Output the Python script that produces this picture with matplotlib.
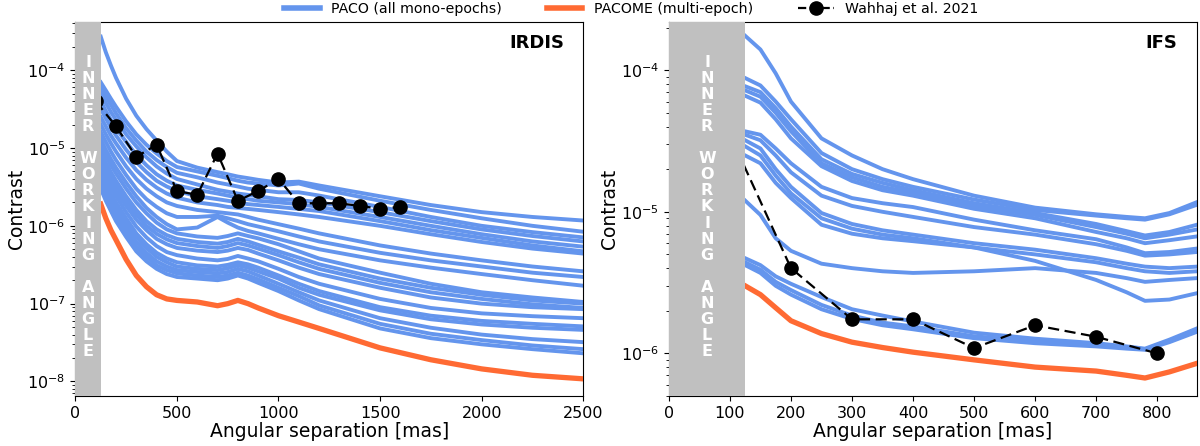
import matplotlib
matplotlib.use('Agg')
import matplotlib.pyplot as plt
from matplotlib.lines import Line2D

# ---- IRDIS ----
irdis_sep = [125, 150, 175, 200, 250, 300, 350, 400, 450, 500, 600, 700, 750, 800, 850, 900,
             1000, 1100, 1200, 1500, 1750, 2000, 2250, 2500]

irdis_paco = [
    [2.7e-4, 1.7e-4, 1.15e-4, 8.0e-5, 4.3e-5, 2.6e-5, 1.75e-5, 1.25e-5, 9.0e-6, 6.8e-6, 5.6e-6, 4.9e-6,
     4.6e-6, 4.3e-6, 4.1e-6, 3.9e-6, 3.6e-6, 3.7e-6, 3.3e-6, 2.4e-6, 1.85e-6, 1.5e-6, 1.3e-6, 1.17e-6],
    [7.0e-5, 5.5e-5, 4.3e-5, 3.4e-5, 2.2e-5, 1.5e-5, 1.1e-5, 8.5e-6, 6.8e-6, 5.7e-6, 5.0e-6, 4.4e-6,
     4.1e-6, 3.8e-6, 3.6e-6, 3.5e-6, 3.3e-6, 3.5e-6, 3.0e-6, 2.1e-6, 1.6e-6, 1.25e-6, 1.0e-6, 8.4e-7],
    [6.0e-5, 4.6e-5, 3.6e-5, 2.8e-5, 1.8e-5, 1.25e-5, 9.0e-6, 7.0e-6, 5.7e-6, 4.8e-6, 4.2e-6, 3.6e-6,
     3.4e-6, 3.2e-6, 3.0e-6, 2.9e-6, 2.7e-6, 2.7e-6, 2.45e-6, 1.75e-6, 1.3e-6, 1.0e-6, 8.3e-7, 7.1e-7],
    [5.0e-5, 3.8e-5, 2.9e-5, 2.3e-5, 1.5e-5, 1.05e-5, 7.6e-6, 5.8e-6, 4.7e-6, 4.0e-6, 3.4e-6, 2.9e-6,
     2.75e-6, 2.6e-6, 2.5e-6, 2.4e-6, 2.2e-6, 2.15e-6, 2.0e-6, 1.5e-6, 1.15e-6, 9.0e-7, 7.4e-7, 6.3e-7],
    [4.0e-5, 3.0e-5, 2.3e-5, 1.8e-5, 1.2e-5, 8.2e-6, 6.0e-6, 4.6e-6, 3.8e-6, 3.3e-6, 2.9e-6, 2.6e-6,
     2.45e-6, 2.3e-6, 2.2e-6, 2.1e-6, 2.0e-6, 1.9e-6, 1.75e-6, 1.3e-6, 1.0e-6, 7.8e-7, 6.3e-7, 5.4e-7],
    [3.2e-5, 2.4e-5, 1.85e-5, 1.45e-5, 9.5e-6, 6.6e-6, 4.9e-6, 3.8e-6, 3.2e-6, 2.8e-6, 2.4e-6, 2.2e-6,
     2.1e-6, 2.0e-6, 1.9e-6, 1.85e-6, 1.75e-6, 1.65e-6, 1.55e-6, 1.15e-6, 8.8e-7, 7.0e-7, 5.6e-7, 4.7e-7],
    [2.5e-5, 1.9e-5, 1.45e-5, 1.15e-5, 7.5e-6, 5.2e-6, 3.9e-6, 3.1e-6, 2.6e-6, 2.3e-6, 2.0e-6, 1.85e-6,
     1.75e-6, 1.7e-6, 1.65e-6, 1.6e-6, 1.5e-6, 1.4e-6, 1.3e-6, 1.0e-6, 7.8e-7, 6.2e-7, 5.1e-7, 4.4e-7],
    [2.0e-5, 1.5e-5, 1.15e-5, 9.0e-6, 5.8e-6, 4.0e-6, 3.0e-6, 2.4e-6, 2.0e-6, 1.8e-6, 1.6e-6, 1.5e-6,
     1.45e-6, 1.4e-6, 1.3e-6, 1.2e-6, 1.05e-6, 9.2e-7, 8.0e-7, 5.6e-7, 4.4e-7, 3.6e-7, 3.0e-7, 2.6e-7],
    [1.6e-5, 1.2e-5, 9.0e-6, 7.0e-6, 4.5e-6, 3.0e-6, 2.2e-6, 1.75e-6, 1.45e-6, 1.3e-6, 1.3e-6, 1.35e-6,
     1.25e-6, 1.15e-6, 1.05e-6, 9.8e-7, 8.5e-7, 7.3e-7, 6.3e-7, 4.5e-7, 3.6e-7, 3.0e-7, 2.5e-7, 2.2e-7],
    [1.3e-5, 9.5e-6, 7.2e-6, 5.6e-6, 3.6e-6, 2.4e-6, 1.7e-6, 1.3e-6, 1.05e-6, 9.0e-7, 9.5e-7, 1.3e-6,
     1.1e-6, 9.5e-7, 8.6e-7, 8.0e-7, 6.8e-7, 5.8e-7, 5.0e-7, 3.6e-7, 2.9e-7, 2.4e-7, 2.0e-7, 1.7e-7],
    [1.1e-5, 8.0e-6, 6.0e-6, 4.7e-6, 3.0e-6, 2.0e-6, 1.45e-6, 1.1e-6, 9.0e-7, 8.0e-7, 7.3e-7, 7.0e-7,
     7.4e-7, 8.0e-7, 7.4e-7, 6.9e-7, 5.8e-7, 4.7e-7, 3.8e-7, 2.5e-7, 1.8e-7, 1.4e-7, 1.2e-7, 1.05e-7],
    [9.0e-6, 6.5e-6, 4.9e-6, 3.8e-6, 2.4e-6, 1.6e-6, 1.15e-6, 9.0e-7, 7.6e-7, 6.8e-7, 6.2e-7, 5.9e-7,
     6.2e-7, 6.8e-7, 6.3e-7, 5.7e-7, 4.7e-7, 3.9e-7, 3.2e-7, 2.1e-7, 1.6e-7, 1.3e-7, 1.1e-7, 1.0e-7],
    [8.0e-6, 5.8e-6, 4.3e-6, 3.3e-6, 2.1e-6, 1.4e-6, 1.0e-6, 7.9e-7, 6.7e-7, 6.0e-7, 5.5e-7, 5.2e-7,
     5.5e-7, 6.0e-7, 5.6e-7, 5.1e-7, 4.2e-7, 3.4e-7, 2.8e-7, 1.85e-7, 1.4e-7, 1.15e-7, 9.8e-8, 8.8e-8],
    [7.0e-6, 5.0e-6, 3.7e-6, 2.8e-6, 1.8e-6, 1.2e-6, 8.8e-7, 6.8e-7, 5.8e-7, 5.2e-7, 4.8e-7, 4.6e-7,
     4.8e-7, 5.2e-7, 4.9e-7, 4.4e-7, 3.6e-7, 2.9e-7, 2.4e-7, 1.6e-7, 1.2e-7, 1.0e-7, 9.0e-8, 8.5e-8],
    [6.0e-6, 4.3e-6, 3.2e-6, 2.4e-6, 1.5e-6, 9.8e-7, 7.1e-7, 5.5e-7, 4.6e-7, 4.2e-7, 3.8e-7, 3.6e-7,
     3.75e-7, 4.1e-7, 3.8e-7, 3.5e-7, 2.8e-7, 2.2e-7, 1.8e-7, 1.15e-7, 8.8e-8, 7.5e-8, 6.9e-8, 6.5e-8],
    [5.0e-6, 3.6e-6, 2.6e-6, 2.0e-6, 1.25e-6, 8.0e-7, 5.8e-7, 4.5e-7, 3.8e-7, 3.4e-7, 3.1e-7, 3.0e-7,
     3.15e-7, 3.4e-7, 3.2e-7, 2.9e-7, 2.3e-7, 1.8e-7, 1.45e-7, 9.0e-8, 7.0e-8, 6.0e-8, 5.5e-8, 5.1e-8],
    [4.5e-6, 3.2e-6, 2.35e-6, 1.8e-6, 1.1e-6, 7.2e-7, 5.2e-7, 4.0e-7, 3.4e-7, 3.0e-7, 2.8e-7, 2.7e-7,
     2.85e-7, 3.1e-7, 2.9e-7, 2.6e-7, 2.1e-7, 1.6e-7, 1.3e-7, 8.2e-8, 6.3e-8, 5.4e-8, 4.9e-8, 4.6e-8],
    [4.0e-6, 2.8e-6, 2.05e-6, 1.55e-6, 9.5e-7, 6.2e-7, 4.5e-7, 3.5e-7, 3.0e-7, 2.7e-7, 2.55e-7, 2.45e-7,
     2.55e-7, 2.8e-7, 2.6e-7, 2.3e-7, 1.8e-7, 1.4e-7, 1.1e-7, 6.5e-8, 4.9e-8, 4.0e-8, 3.5e-8, 3.2e-8],
    [3.5e-6, 2.45e-6, 1.8e-6, 1.35e-6, 8.3e-7, 5.4e-7, 4.0e-7, 3.1e-7, 2.7e-7, 2.45e-7, 2.3e-7, 2.2e-7,
     2.3e-7, 2.5e-7, 2.3e-7, 2.05e-7, 1.6e-7, 1.25e-7, 9.5e-8, 5.5e-8, 4.1e-8, 3.4e-8, 2.9e-8, 2.6e-8],
    [3.0e-6, 2.1e-6, 1.55e-6, 1.15e-6, 7.2e-7, 4.7e-7, 3.5e-7, 2.8e-7, 2.4e-7, 2.2e-7, 2.1e-7, 2.0e-7,
     2.1e-7, 2.3e-7, 2.1e-7, 1.85e-7, 1.45e-7, 1.1e-7, 8.5e-8, 4.8e-8, 3.6e-8, 3.0e-8, 2.6e-8, 2.3e-8],
]

irdis_pacome = [1.9e-6, 1.25e-6, 8.8e-7, 6.6e-7, 3.7e-7, 2.3e-7, 1.65e-7, 1.3e-7, 1.15e-7, 1.1e-7,
                1.05e-7, 9.4e-8, 1.0e-7, 1.1e-7, 1.0e-7, 8.8e-8, 7.0e-8, 5.8e-8, 4.8e-8, 2.7e-8,
                1.9e-8, 1.45e-8, 1.2e-8, 1.08e-8]

irdis_wahhaj_sep = [100, 200, 300, 400, 500, 600, 700, 800, 900, 1000, 1100, 1200, 1300, 1400, 1500, 1600]
irdis_wahhaj = [4.0e-5, 1.9e-5, 7.7e-6, 1.1e-5, 2.8e-6, 2.5e-6, 8.5e-6, 2.1e-6, 2.8e-6, 4.0e-6,
                1.95e-6, 1.95e-6, 1.95e-6, 1.8e-6, 1.66e-6, 1.75e-6]

# ---- IFS ----
ifs_sep = [125, 150, 175, 200, 250, 300, 350, 400, 500, 600, 700, 750, 780, 820, 865]

ifs_paco = [
    [1.75e-4, 1.4e-4, 9.5e-5, 6.0e-5, 3.3e-5, 2.5e-5, 2.0e-5, 1.7e-5, 1.3e-5, 1.07e-5, 9.6e-6, 9.2e-6, 9.0e-6, 9.8e-6, 1.17e-5],
    [8.8e-5, 7.8e-5, 6.0e-5, 4.5e-5, 2.6e-5, 2.0e-5, 1.7e-5, 1.5e-5, 1.22e-5, 1.03e-5, 9.4e-6, 9.0e-6, 8.8e-6, 9.6e-6, 1.12e-5],
    [7.7e-5, 7.0e-5, 5.4e-5, 4.0e-5, 2.35e-5, 1.85e-5, 1.6e-5, 1.42e-5, 1.15e-5, 9.8e-6, 8.2e-6, 7.3e-6, 6.8e-6, 7.2e-6, 8.1e-6],
    [7.2e-5, 6.5e-5, 5.0e-5, 3.7e-5, 2.2e-5, 1.75e-5, 1.5e-5, 1.36e-5, 1.1e-5, 9.5e-6, 7.8e-6, 7.0e-6, 6.5e-6, 6.9e-6, 7.5e-6],
    [6.6e-5, 5.9e-5, 4.5e-5, 3.3e-5, 2.1e-5, 1.65e-5, 1.42e-5, 1.3e-5, 1.05e-5, 9.0e-6, 7.2e-6, 6.5e-6, 6.0e-6, 6.3e-6, 6.7e-6],
    [3.7e-5, 3.5e-5, 2.8e-5, 2.2e-5, 1.5e-5, 1.25e-5, 1.15e-5, 1.08e-5, 8.8e-6, 7.4e-6, 6.4e-6, 5.6e-6, 5.1e-6, 5.2e-6, 5.5e-6],
    [3.5e-5, 3.2e-5, 2.5e-5, 1.9e-5, 1.3e-5, 1.1e-5, 1.0e-5, 9.2e-6, 7.8e-6, 6.9e-6, 5.9e-6, 5.3e-6, 4.9e-6, 5.0e-6, 5.2e-6],
    [3.2e-5, 2.8e-5, 2.0e-5, 1.5e-5, 9.8e-6, 8.2e-6, 7.4e-6, 6.9e-6, 6.0e-6, 5.4e-6, 4.7e-6, 4.3e-6, 4.1e-6, 4.0e-6, 4.1e-6],
    [2.5e-5, 2.2e-5, 1.6e-5, 1.25e-5, 8.1e-6, 7.0e-6, 6.5e-6, 6.2e-6, 5.6e-6, 5.0e-6, 4.4e-6, 4.0e-6, 3.8e-6, 3.7e-6, 3.8e-6],
    [2.9e-5, 2.5e-5, 1.8e-5, 1.35e-5, 9.0e-6, 7.6e-6, 6.9e-6, 6.5e-6, 5.6e-6, 4.5e-6, 3.3e-6, 2.7e-6, 2.35e-6, 2.4e-6, 2.66e-6],
    [1.2e-5, 9.5e-6, 6.5e-6, 5.3e-6, 4.3e-6, 4.0e-6, 3.8e-6, 3.7e-6, 3.8e-6, 4.0e-6, 3.7e-6, 3.4e-6, 3.2e-6, 3.3e-6, 3.4e-6],
    [4.7e-6, 4.2e-6, 3.5e-6, 3.1e-6, 2.5e-6, 2.05e-6, 1.85e-6, 1.68e-6, 1.4e-6, 1.27e-6, 1.18e-6, 1.12e-6, 1.08e-6, 1.25e-6, 1.5e-6],
    [4.4e-6, 3.9e-6, 3.2e-6, 2.8e-6, 2.2e-6, 1.85e-6, 1.65e-6, 1.55e-6, 1.32e-6, 1.22e-6, 1.15e-6, 1.1e-6, 1.07e-6, 1.22e-6, 1.45e-6],
    [4.2e-6, 3.7e-6, 3.0e-6, 2.6e-6, 2.05e-6, 1.75e-6, 1.58e-6, 1.48e-6, 1.28e-6, 1.18e-6, 1.12e-6, 1.08e-6, 1.06e-6, 1.2e-6, 1.42e-6],
]

ifs_pacome = [3.0e-6, 2.6e-6, 2.1e-6, 1.7e-6, 1.38e-6, 1.2e-6, 1.1e-6, 1.02e-6, 9.0e-7, 8.0e-7,
              7.5e-7, 7.0e-7, 6.7e-7, 7.4e-7, 8.5e-7]

ifs_wahhaj_sep = [100, 200, 300, 400, 500, 600, 700, 800]
ifs_wahhaj = [3.5e-5, 4.0e-6, 1.74e-6, 1.74e-6, 1.09e-6, 1.58e-6, 1.31e-6, 1.0e-6]

iwa = 125
iwa_text = '\n'.join('INNER WORKING ANGLE')

blue = '#6495ED'
orange = '#FF6A33'


def draw_panel(ax, sep, paco, pacome, w_sep, w_val, xlim, ylim, xticks, name):
    for curve in paco:
        ax.plot(sep, curve, color=blue, lw=2.8, solid_joinstyle='round', zorder=2)
    ax.plot(sep, pacome, color=orange, lw=3.8, solid_joinstyle='round', zorder=3)
    ax.plot(w_sep, w_val, color='black', ls='--', lw=1.6, marker='o', ms=9.5,
            dashes=(5, 2.5), zorder=4)
    # inner working angle band drawn over the curves
    ax.axvspan(0, iwa, color='silver', lw=0, zorder=5)
    ax.text(iwa / 2, 0.505, iwa_text, transform=ax.get_xaxis_transform(),
            ha='center', va='center', color='white', fontweight='bold',
            fontsize=11.5, linespacing=1.09, zorder=6)
    ax.text(0.963, 0.943, name, transform=ax.transAxes, ha='right', va='center',
            fontweight='bold', fontsize=13, zorder=6)
    ax.set_yscale('log')
    ax.set_xlim(*xlim)
    ax.set_ylim(*ylim)
    ax.set_xticks(xticks)
    ax.tick_params(labelsize=11.5)
    ax.set_xlabel('Angular separation [mas]', fontsize=13.5, labelpad=1)
    ax.set_ylabel('Contrast', fontsize=13.5, labelpad=1)


def main():
    fig = plt.figure(figsize=(12, 4.46), dpi=100)
    ax1 = fig.add_axes([0.0628, 0.1121, 0.4232, 0.8392])
    ax2 = fig.add_axes([0.5574, 0.1121, 0.4400, 0.8392])

    draw_panel(ax1, irdis_sep, irdis_paco, irdis_pacome, irdis_wahhaj_sep, irdis_wahhaj,
               (0, 2500), (6.5e-9, 4.2e-4), [0, 500, 1000, 1500, 2000, 2500], 'IRDIS')
    draw_panel(ax2, ifs_sep, ifs_paco, ifs_pacome, ifs_wahhaj_sep, ifs_wahhaj,
               (0, 865), (5.0e-7, 2.2e-4), list(range(0, 900, 100)), 'IFS')

    handles = [
        Line2D([], [], color=blue, lw=4),
        Line2D([], [], color=orange, lw=4),
        Line2D([], [], color='black', ls='--', lw=1.6, marker='o', ms=9.5),
    ]
    labels = ['PACO (all mono-epochs)', 'PACOME (multi-epoch)', 'Wahhaj et al. 2021']
    fig.legend(handles, labels, loc='upper center', bbox_to_anchor=(0.526, 1.025), ncol=3,
               frameon=False, fontsize=10.2, columnspacing=3.2, handlelength=2.5,
               handletextpad=0.8)

    fig.savefig('out.png', dpi=100)


if __name__ == '__main__':
    main()
